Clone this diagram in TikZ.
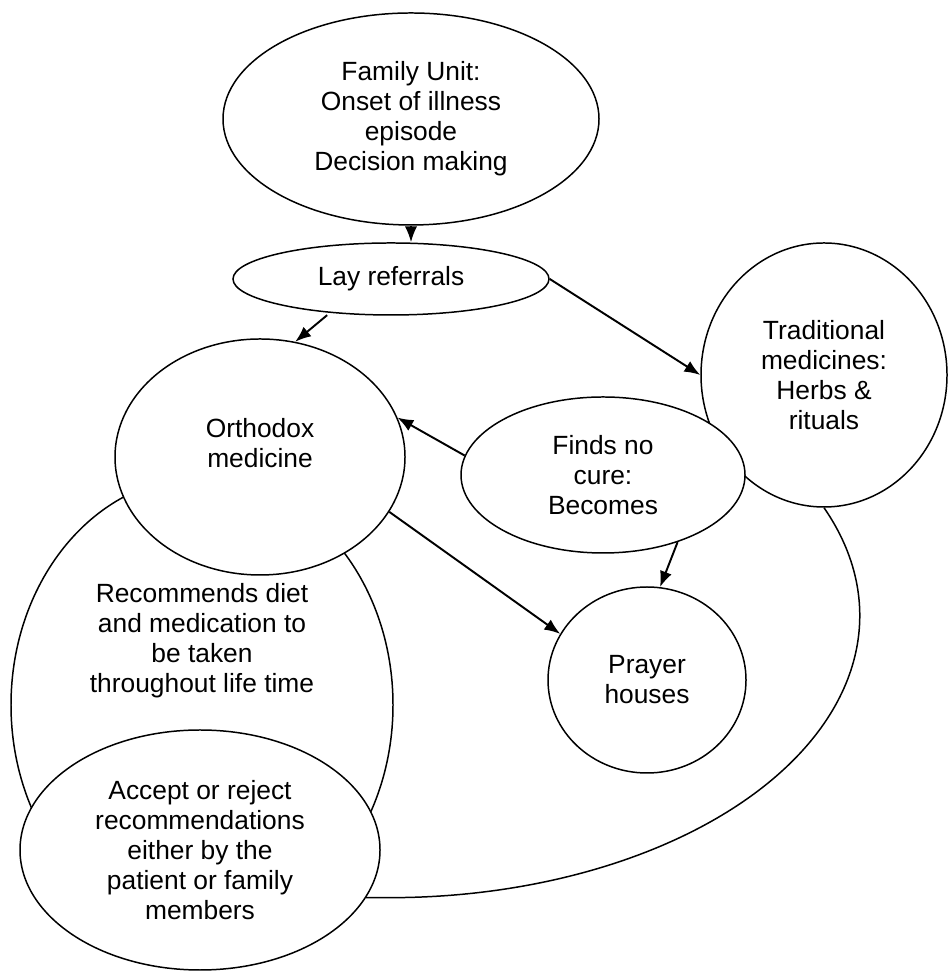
\documentclass[tikz,border=0pt]{standalone}
\usepackage{fontspec}
\setmainfont{Liberation Sans}
\usetikzlibrary{shapes.geometric,arrows.meta}

\begin{document}
\begin{tikzpicture}[font=\fontsize{15}{17}\selectfont,
  bubble/.style={draw,ellipse,fill=white,inner sep=0pt,align=center,line width=0.85pt},
  arr/.style={line width=1.1pt,-{Latex[length=9pt,width=7pt]}}]
\useasboundingbox (0,0) rectangle (18.98,19.44);
\node[bubble,minimum width=7.64cm,minimum height=9.12cm,label={[align=center,yshift=1.28cm]center:Recommends diet\\and medication to\\be taken\\throughout life time}] (recom) at (4.04,5.34) {};
\node[bubble,minimum width=5.8cm,minimum height=4.72cm,label={[align=center,yshift=0.28cm]center:Orthodox\\medicine}] (ortho) at (5.2,10.3) {};
\node[bubble,minimum width=7.2cm,minimum height=4.8cm] (accept) at (4.0,2.44) {Accept or reject\\recommendations\\either by the\\patient or family\\members};
\node[bubble,minimum width=4.92cm,minimum height=5.28cm] (trad) at (16.48,11.94) {Traditional\\medicines:\\Herbs \&\\rituals};
\node[bubble,minimum width=5.68cm,minimum height=3.12cm] (finds) at (12.06,9.94) {Finds no\\cure:\\Becomes};
\node[bubble,minimum width=3.96cm,minimum height=3.72cm] (prayer) at (12.94,5.84) {Prayer\\houses};
\node[bubble,minimum width=7.52cm,minimum height=4.24cm] (family) at (8.22,17.06) {Family Unit:\\Onset of illness\\episode\\Decision making};
\node[bubble,minimum width=6.32cm,minimum height=1.44cm] (lay) at (7.82,13.86) {Lay referrals};
% long return curve
\draw[line width=0.85pt] (trad.south) arc[start angle=22.5,end angle=-90,x radius=9.4cm,y radius=5.64cm] -- (accept.-16);
\draw[arr] (family.south) -- (family.south |- lay.north);
\draw[arr,shorten <=2pt] (lay.209) -- (ortho.73);
\draw[arr] (lay.east) -- (trad.west);
\draw[arr] (finds.172) -- (ortho.16);
\draw[arr] (ortho.-23) -- (prayer.152);
\draw[arr] (finds.-42) -- (prayer.82);
\end{tikzpicture}
\end{document}
